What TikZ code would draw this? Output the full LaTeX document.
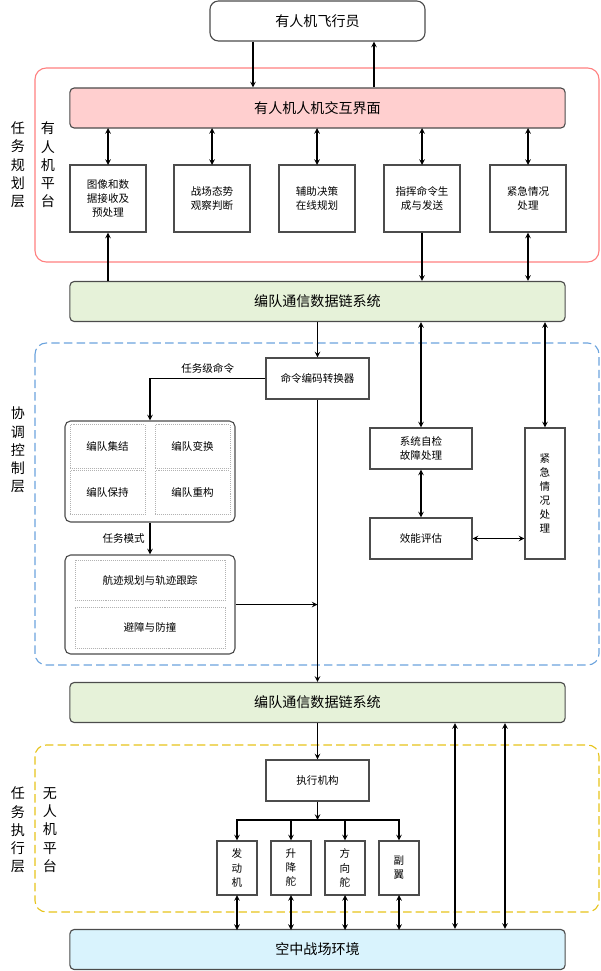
\documentclass[tikz,border=0pt]{standalone}
\usepackage{fontspec}
\setmainfont{Noto Sans CJK SC}
\usetikzlibrary
  {
    arrows,      % extra arrow heads
    positioning, % place nodes relative to other nodes
    calc,
  }

\begin{document}
\begin{tikzpicture}
    [
      x=0.025cm, y=-0.025cm,
      >=stealth,
      box/.style=
        {
          rectangle,
          draw=black!70,
          fill=white,
          thick,
          inner sep=1pt,
          font=\fontsize{7.5}{10}\selectfont,
          align=center,
        },
      bar/.style=
        {
          rectangle,
          rounded corners=3pt,
          draw=black!70,
          thick,
          minimum width=12.375cm,
          minimum height=1cm,
          font=\fontsize{10}{12}\selectfont,
        },
      cell/.style=
        {
          rectangle,
          draw=black!30,
          densely dotted,
          font=\fontsize{7.5}{10}\selectfont,
        },
      group/.style=
        {
          rectangle,
          rounded corners=4pt,
          draw=black!70,
          thick,
          minimum width=4.25cm,
        },
      layer/.style=
        {
          rounded corners=8pt,
          thick,
          dash pattern=on 6pt off 3pt,
        },
      side/.style=
        {
          align=center,
          font=\fontsize{10}{13}\selectfont,
        },
      link/.style={->, thick},
      both/.style={<->, thick},
    ]
    \useasboundingbox (0,0) rectangle (600,971);

    % layer frames
    \draw[thick, rounded corners=8pt, draw=red!50] (35,68) rectangle (599,262);
    \draw[layer, draw=cyan!60!blue!60] (35,343) rectangle (599,665);
    \draw[layer, draw=yellow!70!orange!90!black] (35,745) rectangle (599,912);

    \node[side] (plan)   at (18,165) {任\\务\\规\\划\\层};
    \node[side] (manned) at (48,165) {有\\人\\机\\平\\台};
    \node[side] (coord)  at (18,450) {协\\调\\控\\制\\层};
    \node[side] (exec)   at (18,830) {任\\务\\执\\行\\层};
    \node[side] (uav)    at (50,830) {无\\人\\机\\平\\台};

    % manned platform
    \node[bar, rounded corners=6pt, minimum width=5.375cm, fill=white]
      (pilot) at (317.5,21) {有人机飞行员};
    \node[bar, fill=red!30!pink!40] (hmi) at (317.5,108) {有人机人机交互界面};
    \node[box, minimum width=1.9cm, minimum height=1.675cm]
      (image) at (108,198.5) {图像和数\\据接收及\\预处理};
    \node[box, minimum width=1.9cm, minimum height=1.675cm]
      (situation) at (212,198.5) {战场态势\\观察判断};
    \node[box, minimum width=1.9cm, minimum height=1.675cm]
      (decision) at (317,198.5) {辅助决策\\在线规划};
    \node[box, minimum width=1.9cm, minimum height=1.675cm]
      (command) at (422,198.5) {指挥命令生\\成与发送};
    \node[box, minimum width=1.9cm, minimum height=1.675cm]
      (emergency) at (528,198.5) {紧急情况\\处理};
    \foreach \x in {108,212,317,422,528}
      \draw[both] (\x,128) -- (\x,165);
    \coordinate (down) at (253,0);
    \coordinate (up) at (374,0);
    \draw[link] (pilot.south -| down) -- (hmi.north -| down);
    \draw[link] (hmi.north -| up) -- (pilot.south -| up);

    \node[bar, fill=green!30!olive!15] (link1) at (317.5,301.5) {编队通信数据链系统};
    \draw[link] (link1.north -| image) -- (image);
    \draw[link] (command) -- (link1.north -| command);
    \draw[both] (emergency) -- (link1.north -| emergency);

    % coordination layer
    \node[box, minimum width=2.575cm, minimum height=1.025cm]
      (encoder) at (317.5,378.5) {命令编码转换器};
    \node[box, minimum width=2.55cm, minimum height=1.025cm]
      (selfcheck) at (421,448.5) {系统自检\\故障处理};
    \node[box, minimum width=2.55cm, minimum height=1.025cm]
      (evaluate) at (421,538.5) {效能评估};
    \node[box, minimum width=1cm, minimum height=3.275cm]
      (urgent) at (545,493.5) {紧\\急\\情\\况\\处\\理};
    \draw[link] (link1.south -| encoder) -- (encoder);
    \draw[both] (link1.south -| selfcheck) -- (selfcheck);
    \draw[both] (link1.south -| urgent) -- (urgent);
    \draw[both] (selfcheck) -- (evaluate);
    \draw[both] (evaluate) -- (urgent.west |- evaluate);

    \node[group, minimum height=2.525cm] (formation) at (150,471.5) {};
    \node[cell, minimum width=1.875cm, minimum height=1.1cm]
      (gather) at (107.5,446.5) {编队集结};
    \node[cell, minimum width=1.875cm, minimum height=1.1cm]
      (change) at (192.5,446.5) {编队变换};
    \node[cell, minimum width=1.875cm, minimum height=1.1cm]
      (keep) at (107.5,492.5) {编队保持};
    \node[cell, minimum width=1.875cm, minimum height=1.1cm]
      (rebuild) at (192.5,492.5) {编队重构};
    \node[group, minimum height=2.475cm] (mission) at (150,604.5) {};
    \node[cell, minimum width=3.75cm, minimum height=1cm]
      (track) at (150,580) {航迹规划与轨迹跟踪};
    \node[cell, minimum width=3.75cm, minimum height=1.025cm]
      (avoid) at (150,627.5) {避障与防撞};

    \draw[link] (encoder.west) -| (formation.north)
      node[pos=0.25, above, font=\fontsize{7.5}{10}\selectfont] {任务级命令};
    \draw[link] (formation) -- (mission)
      node[midway, left, font=\fontsize{7.5}{10}\selectfont] {任务模式};

    \node[bar, fill=green!30!olive!15] (link2) at (317.5,702.5) {编队通信数据链系统};
    \draw[link] (encoder) -- (link2.north -| encoder);
    \draw[link] (mission.east) -- (mission.east -| encoder);

    % execution layer
    \node[box, minimum width=2.575cm, minimum height=1.025cm]
      (actuator) at (317.5,780.5) {执行机构};
    \node[bar, fill=cyan!15] (battle) at (317.5,949.5) {空中战场环境};
    \draw[link] (link2) -- (actuator);
    \coordinate (branch) at (317.5,820);
    \draw[link] (actuator) -- (branch);
    \node[box, minimum width=1cm, minimum height=1.35cm]
      (engine) at (237,868) {发\\动\\机};
    \node[box, minimum width=1cm, minimum height=1.35cm]
      (elevator) at (291,868) {升\\降\\舵};
    \node[box, minimum width=1cm, minimum height=1.35cm]
      (rudder) at (345,868) {方\\向\\舵};
    \node[box, minimum width=1cm, minimum height=1.35cm]
      (aileron) at (399,868) {副\\翼};
    \draw[link] (branch) -| (engine.north);
    \draw[link] (branch) -| (elevator.north);
    \draw[link] (branch) -| (rudder.north);
    \draw[link] (branch) -| (aileron.north);
    \foreach \x in {237,291,345,399}
      \draw[both] (\x,895) -- (\x,930);
    \coordinate (left bus) at (455,0);
    \coordinate (right bus) at (505,0);
    \draw[both] (link2.south -| left bus) -- (battle.north -| left bus);
    \draw[both] (link2.south -| right bus) -- (battle.north -| right bus);
\end{tikzpicture}
\end{document}
